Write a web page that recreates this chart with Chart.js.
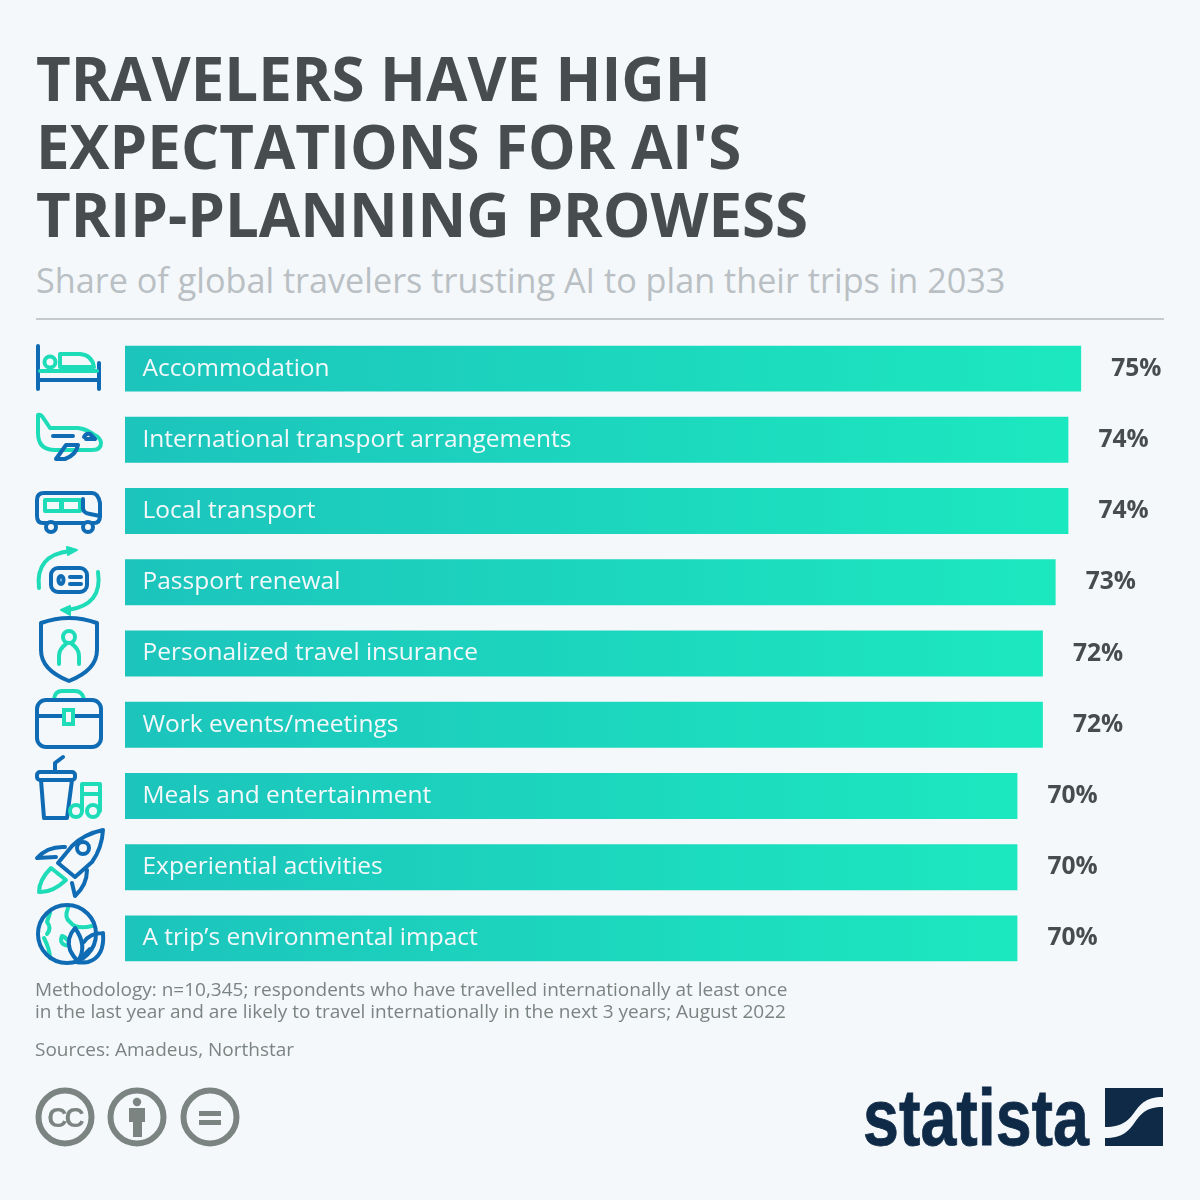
<!DOCTYPE html>
<html>
<head>
<meta charset="utf-8">
<script src="https://cdn.jsdelivr.net/npm/chart.js@4/dist/chart.umd.min.js"></script>
<style>
  html, body { margin: 0; padding: 0; background: #f4f8fb; }
  #page { position: relative; width: 1200px; height: 1200px; overflow: hidden; font-family: "Open Sans", sans-serif; }
  #chart, #icons { position: absolute; left: 0; top: 0; }
  .txt { position: absolute; white-space: nowrap; }
  .title { left: 36px; font-size: 60px; line-height: 68px; font-weight: 700; color: #474c4e; }
  .sub { left: 36px; top: 255px; font-size: 34.2px; line-height: 50px; color: #b9bfc3; }
  .note { left: 35px; font-size: 19px; line-height: 22px; color: #7c8482; }
  #rule { position: absolute; left: 36px; top: 318px; width: 1128px; height: 2px; background: #c5cacd; }
  .b { fill: none; stroke: #0f6cb4; stroke-width: 4; stroke-linecap: round; stroke-linejoin: round; }
  .t { fill: none; stroke: #1fdcb8; stroke-width: 4; stroke-linecap: round; stroke-linejoin: round; }
</style>
</head>
<body>
<div id="page">
  <div class="txt title" style="top:44px">TRAVELERS HAVE HIGH</div>
  <div class="txt title" style="top:112px">EXPECTATIONS FOR AI'S</div>
  <div class="txt title" style="top:180px">TRIP-PLANNING PROWESS</div>
  <div class="txt sub">Share of global travelers trusting AI to plan their trips in 2033</div>
  <div id="rule"></div>

  <canvas id="chart" width="1200" height="1200"></canvas>

  <svg id="icons" width="1200" height="1200" viewBox="0 0 1200 1200">
    <!-- bed -->
    <path class="b" d="M38 346V389M99 363V389M38 380H99"/>
    <path class="t" d="M40 371H97"/>
    <circle class="t" cx="50" cy="362" r="5.5"/>
    <path class="t" d="M60 354H80Q92 355 94 367H60Z"/>
    <!-- plane -->
    <path class="t" d="M38 415V433Q38 450 55 450H92Q101 450 101 443Q101 438 93 434Q86 429 78 428H50L44 419Q41 414 38 415Z"/>
    <path class="b" d="M53 436H73M84 437Q86 433 90 434L95 439H86"/>
    <path class="b" d="M66 445H78Q76 455 65 459H56Z"/>
    <!-- bus -->
    <path class="b" d="M43 523Q37 523 37 516V500Q37 493 44 493H92Q98 493 100 503V516Q100 523 94 523Z"/>
    <circle class="b" cx="51" cy="527" r="5" style="fill:#f4f8fb"/>
    <circle class="b" cx="88" cy="527" r="5" style="fill:#f4f8fb"/>
    <path class="t" d="M45 500H61V511H45ZM62 500H80V511H62Z"/>
    <path class="b" d="M83 499V508Q83 513 90 514L100 516"/>
    <!-- passport -->
    <path class="t" d="M39 588Q35 555 70 551M98 572Q103 605 68 610"/>
    <path d="M67 547L77 550L68 555ZM70 606L61 610L70 615Z" fill="#1fdcb8" stroke="#1fdcb8" stroke-width="2" stroke-linejoin="round"/>
    <rect class="b" x="51" y="568" width="36" height="24" rx="7"/>
    <ellipse class="b" cx="61" cy="580" rx="2.5" ry="4"/>
    <path class="b" d="M70 577H81M70 584H81"/>
    <!-- shield -->
    <path class="b" d="M41 623Q55 618 69 618Q83 618 97 623V650Q97 670 69 681Q41 670 41 650Z"/>
    <circle class="t" cx="69" cy="637" r="6"/>
    <path class="t" d="M59 664V656Q59 649 66 644M79 664V656Q79 649 72 644"/>
    <!-- briefcase -->
    <path class="t" d="M54 699Q55 691 62 691H75Q82 691 84 699"/>
    <rect class="b" x="37" y="700" width="64" height="47" rx="9"/>
    <path class="b" d="M37 716H101"/>
    <rect x="64" y="710" width="9" height="14" fill="#f4f8fb" stroke="#1fdcb8" stroke-width="4"/>
    <!-- cup and notes -->
    <path class="b" d="M55 772V763L63 757M41 780L44 818H67L72 780"/>
    <rect class="b" x="37" y="772" width="38" height="8" rx="3"/>
    <circle class="t" cx="76" cy="811" r="6"/>
    <circle class="t" cx="93" cy="811" r="6"/>
    <path class="t" d="M82 811V784H100V811M82 794H100"/>
    <!-- rocket -->
    <path class="b" d="M103 830Q84 834 72 846L58 863L75 877L92 862Q102 848 103 830Z"/>
    <circle class="b" cx="83" cy="848" r="6"/>
    <path class="b" d="M65 847Q48 846 37 858L56 857M87 870Q87 885 75 896L72 883"/>
    <path class="t" d="M51 868Q39 880 39 892Q52 893 66 880Z"/>
    <!-- globe -->
    <path class="t" d="M50 913L47 922Q52 928 47 934M44 938Q50 950 50 958M68 908Q64 918 70 922Q76 930 92 926M62 936Q58 945 70 946Q68 938 62 936Z"/>
    <circle class="b" cx="67" cy="934" r="29"/>
    <path class="b" d="M75 928Q66 938 70 950Q74 958 78 961Q88 946 75 928Z" style="fill:#f4f8fb"/>
    <path class="b" d="M103 933Q90 933 84 942M103 933Q105 957 88 962Q82 963 76 962M78 961L90 949"/>
    <!-- licence badges -->
    <g fill="none" stroke="#7c8482" stroke-width="6">
      <circle cx="65" cy="1117" r="26.5"/>
      <circle cx="137" cy="1117" r="26.5"/>
      <circle cx="210" cy="1117" r="26.5"/>
    </g>
    <text x="64.5" y="1127" text-anchor="middle" font-family="Liberation Sans" font-weight="700" font-size="28" letter-spacing="-3" fill="#7c8482">CC</text>
    <g fill="#7c8482">
      <circle cx="137" cy="1102" r="4.2"/>
      <path d="M129 1108H145V1122H142V1137H133V1122H129Z"/>
      <rect x="199" y="1111" width="22" height="5"/>
      <rect x="199" y="1120" width="22" height="5"/>
    </g>
    <!-- statista logo -->
    <text x="863" y="1145" font-family="Liberation Sans" font-weight="700" font-size="80" textLength="226" lengthAdjust="spacingAndGlyphs" fill="#0f2a47" stroke="#0f2a47" stroke-width="0.8">statista</text>
    <path fill="#0f2a47" d="M1105 1088H1163V1097C1128 1097 1142 1127 1105 1127ZM1105 1138C1142 1138 1128 1107 1163 1107V1146H1105Z"/>
  </svg>

  <div class="txt note" style="top:978px">Methodology: n=10,345; respondents who have travelled internationally at least once</div>
  <div class="txt note" style="top:1000px">in the last year and are likely to travel internationally in the next 3 years; August 2022</div>
  <div class="txt note" style="top:1038px">Sources: Amadeus, Northstar</div>
</div>

<script>
const categories = [
  'Accommodation',
  'International transport arrangements',
  'Local transport',
  'Passport renewal',
  'Personalized travel insurance',
  'Work events/meetings',
  'Meals and entertainment',
  'Experiential activities',
  'A trip\u2019s environmental impact',
];
const shares = [75, 74, 74, 73, 72, 72, 70, 70, 70];
const AXIS_MAX = 81.5;

/** Left-to-right gradient across one bar. */
function barFill(ctx) {
  const area = ctx.chart.chartArea;
  if (!area) return '#1bd5be';
  const x = ctx.chart.scales.x;
  const g = ctx.chart.ctx.createLinearGradient(x.getPixelForValue(0), 0, x.getPixelForValue(shares[ctx.dataIndex]), 0);
  g.addColorStop(0, '#1cc4bc');
  g.addColorStop(1, '#1ce8bf');
  return g;
}

// Category name inside each bar, share to the right of it
const barText = {
  id: 'barText',
  afterDatasetsDraw(chart) {
    const c = chart.ctx;
    const x = chart.scales.x;
    c.save();
    c.textBaseline = 'middle';
    chart.getDatasetMeta(0).data.forEach((bar, i) => {
      c.font = '24.5px "Open Sans"';
      c.fillStyle = '#f4f8fb';
      c.textAlign = 'left';
      c.fillText(categories[i], x.getPixelForValue(0) + 17.5, bar.y);
      c.font = '700 24.6px "Open Sans"';
      c.fillStyle = '#474c4e';
      c.fillText(shares[i] + '%', x.getPixelForValue(shares[i]) + 30, bar.y);
    });
    c.restore();
  },
};

document.fonts.load('700 25px "Open Sans"').finally(() => {
  new Chart(document.getElementById('chart'), {
    type: 'bar',
    data: {
      labels: categories,
      datasets: [{ data: shares, backgroundColor: barFill, borderWidth: 0, categoryPercentage: 1, barPercentage: 0.645 }],
    },
    options: {
      indexAxis: 'y', responsive: false, animation: false,
      layout: { padding: { left: 125, right: 36, top: 333, bottom: 226 } },
      scales: {
        x: { display: false, min: 0, max: AXIS_MAX },
        y: { display: false },
      },
      plugins: { legend: { display: false }, tooltip: { enabled: false } },
    },
    plugins: [barText],
  });
});
</script>
</body>
</html>
